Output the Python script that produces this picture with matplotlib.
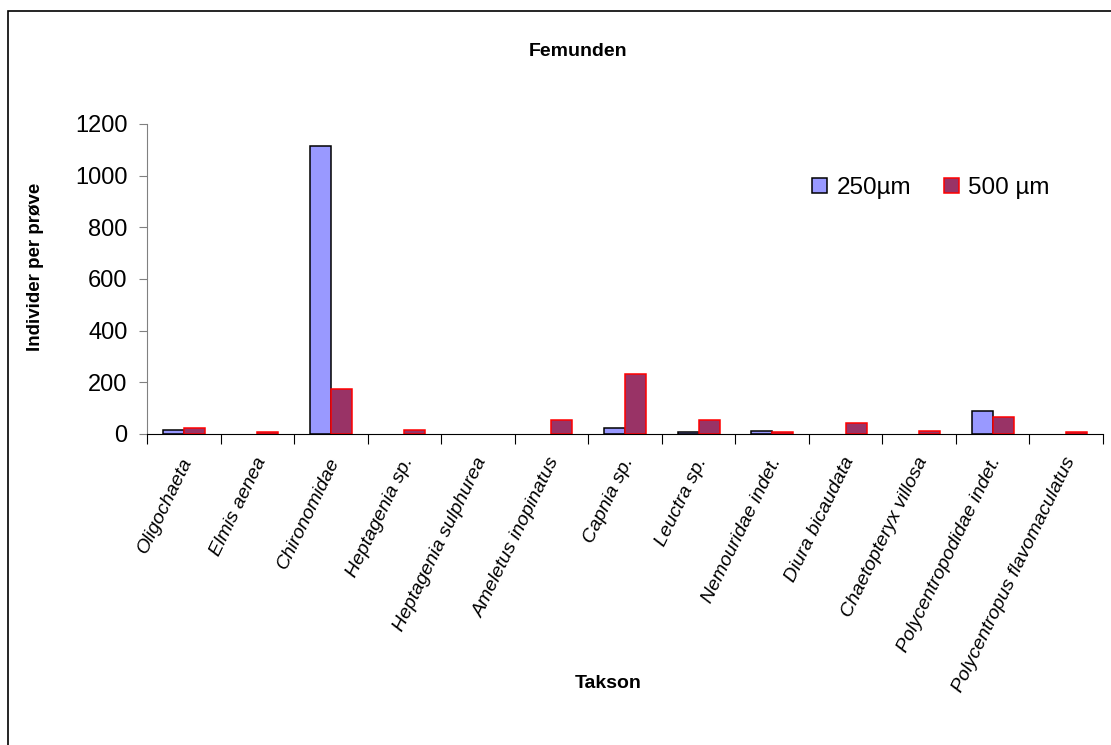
import matplotlib.pyplot as plt
import numpy as np
from matplotlib.patches import Rectangle

plt.rcParams['font.family'] = ['Liberation Sans', 'DejaVu Sans']

taxa = ['Oligochaeta', 'Elmis aenea', 'Chironomidae', 'Heptagenia sp.',
        'Heptagenia sulphurea', 'Ameletus inopinatus', 'Capnia sp.',
        'Leuctra sp.', 'Nemouridae indet.', 'Diura bicaudata',
        'Chaetopteryx villosa', 'Polycentropodidae indet.',
        'Polycentropus flavomaculatus']
v250 = [17, 0, 1113, 0, 0, 0, 23, 6, 12, 0, 0, 89, 0]
v500 = [23, 6, 175, 17, 0, 54, 231, 54, 6, 42, 13, 67, 6]

fig = plt.figure(figsize=(11.11, 7.45), dpi=100)
# outer chart frame
fig.patches.append(Rectangle((8 / 1111, -0.01), 1.02, 1 - 11 / 745 + 0.01,
                             transform=fig.transFigure, fill=False,
                             edgecolor='black', linewidth=1.2))

ax = fig.add_axes([147 / 1111, 1 - 434 / 745, (1103 - 147) / 1111, (434 - 124) / 745])

x = np.arange(len(taxa))
w = 0.2857
b1 = ax.bar(x - w / 2, v250, w, color='#9999FF', edgecolor='black', linewidth=1.1, label='250µm')
b2 = ax.bar(x + w / 2, v500, w, color='#993366', edgecolor='red', linewidth=1.1, label='500 µm')
# Excel draws nothing for empty values
for bars, vals in ((b1, v250), (b2, v500)):
    for p, v in zip(bars, vals):
        if v == 0:
            p.set_visible(False)

ax.set_xlim(-0.5, len(taxa) - 0.5)
ax.set_ylim(0, 1200)
ax.set_yticks(np.arange(0, 1201, 200))
ax.tick_params(axis='y', labelsize=17, length=6, pad=8, direction='out', color='#808080')
ax.set_xticks(np.arange(-0.5, len(taxa), 1))
ax.set_xticklabels([])
ax.tick_params(axis='x', length=7, direction='out')
for i, t in enumerate(taxa):
    ax.text(i + 0.06, -0.078, t, transform=ax.get_xaxis_transform(),
            rotation=64, rotation_mode='anchor', ha='right', va='center',
            fontsize=14, style='italic')

ax.spines['top'].set_visible(False)
ax.spines['right'].set_visible(False)
ax.spines['left'].set_color('#808080')

fig.text(36 / 1111, 1 - 267 / 745, 'Individer per prøve', fontsize=13.5, fontweight='bold',
         rotation=90, ha='center', va='center')
fig.text(608 / 1111, 1 - 683 / 745, 'Takson', fontsize=14, fontweight='bold',
         ha='center', va='center')
fig.text(578 / 1111, 1 - 52 / 745, 'Femunden', fontsize=14, fontweight='bold',
         ha='center', va='center')

ax.legend(loc='center', bbox_to_anchor=(931 / 1111, 1 - 188 / 745),
          bbox_transform=fig.transFigure, ncol=2, frameon=False, fontsize=17.5,
          handlelength=0.62, handleheight=0.62, handletextpad=0.37, columnspacing=1.36)

fig.savefig('out.png', dpi=100)
